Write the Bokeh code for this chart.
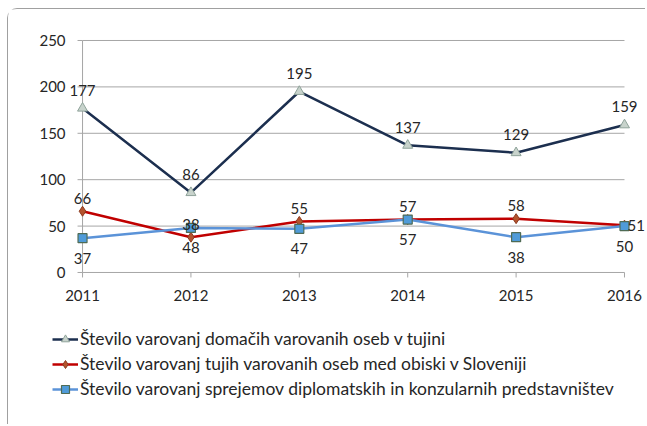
import math
from bokeh.plotting import figure
from bokeh.models import ColumnDataSource, Legend, LegendItem, LabelSet, Range1d
from bokeh.core.properties import value
from bokeh.embed import file_html
from bokeh.resources import INLINE

years = [2011, 2012, 2013, 2014, 2015, 2016]
domestic = [177, 86, 195, 137, 129, 159]
foreign = [66, 38, 55, 57, 58, 51]
receptions = [37, 48, 47, 57, 38, 50]
y_ticks = [0, 50, 100, 150, 200, 250]
x_tick_labels = [str(y) for y in years]
y_tick_labels = [str(v) for v in y_ticks]
names = [
    "Število varovanj domačih varovanih oseb v tujini",
    "Število varovanj tujih varovanih oseb med obiski v Sloveniji",
    "Število varovanj sprejemov diplomatskih in konzularnih predstavništev",
]

FONT = "Lato"
TXT = "#262626"
GRID = "#a6a6a6"

# the plot frame fills the whole canvas; ranges are padded so the chart
# area (2011-2016, 0-250) sits where the reference draws it
p = figure(width=638, height=416, output_backend="svg", toolbar_location=None,
           x_range=Range1d(years[0] - 0.683, years[-1] + 0.203),
           y_range=Range1d(y_ticks[0] - 164.9, y_ticks[-1] + 33.4),
           min_border=0, x_axis_location=None, y_axis_location=None)
p.styles = {"border-top": "1px solid #a0a0a0", "border-left": "1px solid #a0a0a0",
            "border-top-left-radius": "10px", "margin-left": "7px", "margin-top": "8px"}
p.outline_line_color = None
p.xgrid.grid_line_color = None
p.ygrid.grid_line_color = None

# grid lines, axis lines and tick marks
nt = len(y_ticks)
p.segment(x0=[years[0]] * nt, x1=[years[-1]] * nt, y0=y_ticks, y1=y_ticks,
          line_color=GRID, line_width=1)
p.segment(x0=[years[0]], x1=[years[0]], y0=[y_ticks[0]], y1=[y_ticks[-1]],
          line_color=GRID, line_width=1)
p.ray(x=[years[0]] * nt, y=y_ticks, length=5, length_units="screen", angle=math.pi,
      line_color=GRID, line_width=1)
p.ray(x=years, y=[y_ticks[0]] * len(years), length=5, length_units="screen",
      angle=-math.pi / 2, line_color=GRID, line_width=1)

tick_kw = dict(text_font=value(FONT), text_font_size="15px", text_color=TXT,
               text_baseline="middle")
p.text(x=[years[0]] * nt, y=y_ticks, text=y_tick_labels, x_offset=-17,
       text_align="right", **tick_kw)
p.text(x=years, y=[y_ticks[0]] * len(years), text=x_tick_labels, y_offset=23,
       text_align="center", **tick_kw)

src = ColumnDataSource(dict(x=years, d=domestic, f=foreign, r=receptions,
                            ds=[str(v) for v in domestic],
                            rs=[str(v) for v in receptions]))

l1 = p.line("x", "d", source=src, line_color="#1c2f4f", line_width=2.5)
m1 = p.scatter("x", "d", source=src, marker="triangle", size=10,
               fill_color="#c8d3cc", line_color="#8fa39a", line_width=1)
l2 = p.line("x", "f", source=src, line_color="#c00000", line_width=2.5)
m2 = p.scatter("x", "f", source=src, marker="diamond", size=10,
               fill_color="#b4532e", line_color="#8b3a1e", line_width=1)
l3 = p.line("x", "r", source=src, line_color="#5b93d8", line_width=2.5)
m3 = p.scatter("x", "r", source=src, marker="square", size=9,
               fill_color="#4f9bd9", line_color="#4f6b55", line_width=1.2)

lab_kw = dict(text_font=value(FONT), text_font_size="15px", text_color=TXT,
              text_align="center", text_baseline="middle")
p.add_layout(LabelSet(x="x", y="d", text="ds", source=src, y_offset=18, **lab_kw))
p.add_layout(LabelSet(x="x", y="r", text="rs", source=src, y_offset=-20, **lab_kw))

n = len(years)
src_f_top = ColumnDataSource(dict(x=years[:n - 1], y=foreign[:n - 1],
                                  t=[str(v) for v in foreign[:n - 1]]))
src_f_end = ColumnDataSource(dict(x=years[n - 1:], y=foreign[n - 1:],
                                  t=[str(v) for v in foreign[n - 1:]]))
p.add_layout(LabelSet(x="x", y="y", text="t", source=src_f_top, y_offset=13, **lab_kw))
end_kw = dict(lab_kw)
end_kw["text_align"] = "left"
p.add_layout(LabelSet(x="x", y="y", text="t", source=src_f_end, x_offset=3, **end_kw))

legend = Legend(items=[LegendItem(label=names[0], renderers=[l1, m1]),
                       LegendItem(label=names[1], renderers=[l2, m2]),
                       LegendItem(label=names[2], renderers=[l3, m3])],
                location=(44, 26), orientation="vertical")
legend.border_line_color = None
legend.background_fill_alpha = 0
legend.padding = 0
legend.margin = 0
legend.spacing = 4
legend.glyph_width = 26
legend.glyph_height = 20
legend.label_height = 20
legend.label_standoff = 2
legend.label_text_font = FONT
legend.label_text_font_size = "17.5px"
legend.label_text_color = TXT
p.add_layout(legend, "center")

open("out.html", "w").write(file_html(p, INLINE))
